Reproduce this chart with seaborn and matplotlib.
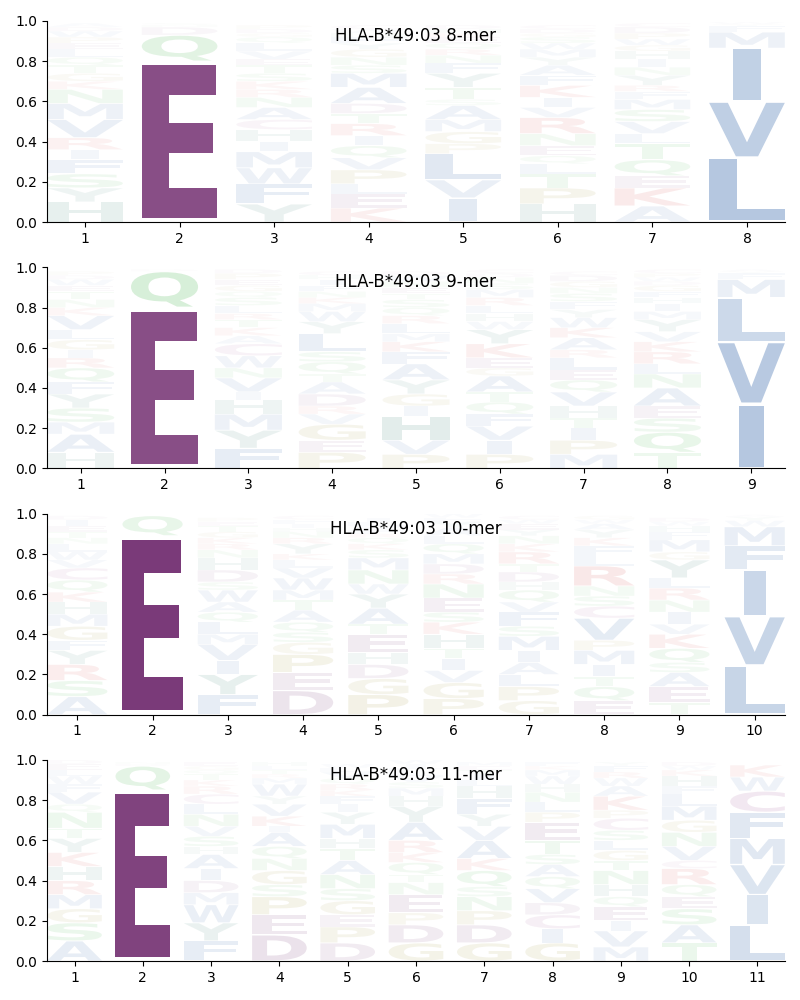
import numpy as np
import matplotlib
matplotlib.use('Agg')
import matplotlib.pyplot as plt
import seaborn as sns
from matplotlib.textpath import TextPath
from matplotlib.patches import PathPatch
from matplotlib.font_manager import FontProperties
from matplotlib.transforms import Affine2D

allele = 'HLA-B*49:03'

# letters per position, stacked bottom -> top, with their probabilities
mer8_letters = [
    'HYSFIRVMNKGTQLEPWDA',
    'EQDNS',
    'YFWMIHCANRKSTEVLQGDP',
    'KELPVQIRTDAMSNGYFHWC',
    'IVLPGMASTYFNRQEKHD',
    'HPTLQENRVIKFAYMWSGDC',
    'AKEQTLVSMFRYNIHGWPDC',
    'LVIMFYW',
]
mer8_heights = [
    [.10, .07, .07, .07, .05, .06, .09, .08, .07, .04, .04, .04, .04, .04, .03, .03, .03, .02, .02],
    [.80, .13, .04, .01, .01],
    [.09, .10, .08, .08, .05, .06, .05, .06, .05, .04, .04, .04, .04, .03, .04, .04, .03, .02, .02, .02],
    [.07, .07, .05, .07, .06, .06, .05, .06, .05, .05, .08, .07, .04, .04, .04, .03, .03, .02, .02, .02],
    [.12, .09, .13, .05, .06, .06, .07, .03, .06, .07, .05, .04, .03, .03, .03, .02, .02, .02],
    [.09, .08, .07, .05, .04, .05, .06, .08, .05, .05, .06, .05, .05, .04, .04, .03, .03, .02, .02, .02],
    [.08, .09, .06, .08, .08, .05, .06, .06, .05, .04, .03, .05, .04, .04, .04, .03, .03, .03, .03, .02],
    [.32, .28, .265, .08, .03, .01, .01],
]

mer9_letters = [
    'HAMSYFQRIGLVKNTEWDP',
    'EQD',
    'FYMHIVNWCAKTRLSQGEPD',
    'PEGVRDATQSLYWMKNFIHC',
    'PVHIGYAFKMLRQSTENWD',
    'PIVFQTAGEKYWHLRMSNDC',
    'MPITHVQELRAKWYFSNGDC',
    'TQSEANLRKVYMIHFGDWPC',
    'IVLMFYA',
]
mer9_heights = [
    [.08, .09, .06, .07, .07, .06, .07, .05, .04, .05, .05, .07, .04, .04, .04, .03, .03, .02, .02],
    [.80, .18, .01],
    [.10, .09, .08, .07, .04, .07, .05, .06, .06, .04, .04, .04, .03, .04, .04, .03, .03, .03, .03, .02],
    [.08, .06, .08, .05, .04, .06, .06, .04, .06, .05, .09, .06, .05, .04, .03, .03, .03, .03, .02, .02],
    [.07, .07, .12, .05, .06, .07, .08, .06, .05, .04, .05, .04, .04, .04, .03, .03, .03, .03, .02],
    [.07, .07, .07, .06, .06, .05, .08, .04, .05, .07, .07, .04, .04, .04, .04, .04, .03, .03, .02, .02],
    [.07, .07, .06, .05, .06, .07, .06, .05, .06, .04, .06, .05, .05, .04, .04, .04, .03, .03, .03, .02],
    [.08, .10, .07, .06, .09, .07, .05, .06, .05, .05, .06, .04, .04, .03, .03, .03, .02, .02, .02, .02],
    [.32, .31, .22, .09, .03, .01, .01],
]

mer10_letters = [
    'ASRYFGMHKQCVWLNTEID',
    'EQ',
    'FYIVMLQAWSDHNRKGTEP',
    'DEPGSQATMWVLKYRNHIFC',
    'PGDHETAYWNMSKQRFVLI',
    'PGVITHKSENRDMQLAYFW',
    'GPLAIMSFVQHDTRKNYEWC',
    'EQTIMPVCSNRLFKYAWG',
    'TEASQKVINRLYGMFHWD',
    'LVIFMWYA',
]
mer10_heights = [
    [.09, .08, .08, .07, .05, .07, .06, .06, .05, .06, .06, .04, .04, .04, .03, .03, .03, .03, .02],
    [.89, .10],
    [.10, .10, .07, .08, .05, .06, .05, .05, .06, .04, .06, .06, .04, .03, .03, .03, .03, .02, .02],
    [.12, .09, .09, .06, .05, .05, .06, .05, .05, .06, .05, .04, .03, .05, .03, .03, .02, .02, .02, .02],
    [.10, .08, .07, .06, .09, .05, .08, .07, .05, .07, .06, .04, .03, .03, .02, .02, .02, .02, .02],
    [.08, .08, .06, .06, .05, .07, .06, .05, .07, .07, .05, .05, .05, .05, .04, .04, .03, .02, .02],
    [.07, .07, .06, .06, .06, .07, .05, .07, .05, .06, .04, .05, .04, .06, .04, .04, .03, .03, .02, .02],
    [.07, .07, .05, .06, .07, .05, .11, .06, .05, .05, .10, .05, .05, .04, .04, .03, .02, .02],
    [.06, .08, .07, .05, .07, .07, .05, .06, .06, .06, .05, .09, .04, .06, .04, .03, .02, .02],
    [.245, .245, .23, .12, .095, .03, .02, .01],
]

mer11_letters = [
    'ASGMRHKYTNQVFWLED',
    'EQDN',
    'FYWMDIAHSVNLCRKTQGE',
    'DEPSGNQAIKVYWMRTLH',
    'DPEGSNATHMYIFKRQVLW',
    'GDPENTQKRAYHMSVLFIW',
    'GDPNSQKAVYFHLITEM',
    'GICDVQASTEPLNHWMKF',
    'MVIEQHNTGLSCPKAWRFY',
    'TASEQRCVNGMLFHKWD',
    'LIVMFCWK',
]
mer11_heights = [
    [.10, .09, .07, .07, .07, .07, .07, .07, .05, .08, .04, .06, .04, .04, .03, .03, .02],
    [.85, .12, .01, .01],
    [.10, .09, .09, .06, .06, .06, .07, .04, .05, .05, .06, .05, .05, .04, .03, .03, .02, .02, .02],
    [.13, .10, .09, .06, .07, .06, .06, .07, .03, .05, .06, .04, .06, .03, .02, .02, .02, .02],
    [.09, .08, .06, .07, .06, .07, .07, .06, .05, .07, .06, .04, .04, .03, .03, .03, .03, .02, .02],
    [.09, .09, .06, .09, .06, .04, .06, .05, .06, .09, .08, .05, .04, .03, .03, .02, .02, .02, .02],
    [.09, .09, .07, .07, .05, .08, .06, .09, .07, .06, .08, .06, .03, .03, .02, .02, .02],
    [.09, .07, .07, .06, .07, .06, .06, .05, .07, .09, .05, .05, .05, .04, .04, .03, .02, .02],
    [.07, .08, .05, .07, .05, .06, .07, .05, .05, .05, .05, .06, .04, .07, .05, .04, .03, .03, .02],
    [.09, .09, .08, .06, .06, .08, .04, .07, .07, .06, .07, .06, .04, .05, .03, .02, .02],
    [.18, .15, .15, .13, .13, .105, .07, .06],
]

# residue colours (opacity = probability)
aa_colors = {}
for aa in 'AVLIMFW':
    aa_colors[aa] = '#1a53a0'
for aa in 'DE':
    aa_colors[aa] = '#6a2268'
for aa in 'NQST':
    aa_colors[aa] = '#26a82e'
for aa in 'KR':
    aa_colors[aa] = '#cc1f1f'
for aa in 'GP':
    aa_colors[aa] = '#8a7f0a'
for aa in 'HY':
    aa_colors[aa] = '#1c6e62'
aa_colors['C'] = '#8c2a7c'

FONT = FontProperties(family='DejaVu Sans', weight='bold')
WIDTH = 0.8
VPAD = 0.05


def draw_letter(ax, c, x, floor, h, color):
    path = TextPath((0, 0), c, size=1, prop=FONT)
    ext = path.get_extents()
    w = WIDTH * 0.37 if c == 'I' else WIDTH
    t = (Affine2D()
         .translate(-ext.x0, -ext.y0)
         .scale(w / ext.width, h * (1 - VPAD) / ext.height)
         .translate(x - w / 2, floor + h * VPAD / 2))
    patch = PathPatch(t.transform_path(path), facecolor=color, edgecolor='none',
                      alpha=min(1.0, h))
    ax.add_patch(patch)


def draw_logo(ax, letters, heights, title):
    n = len(letters)
    for i, (col, hs) in enumerate(zip(letters, heights)):
        floor = 0.0
        for c, h in zip(col, hs):
            draw_letter(ax, c, i + 1, floor, h, aa_colors[c])
            floor += h
    ax.set_xlim(0.6, n + 0.4)
    ax.set_ylim(0, 1)
    ax.set_xticks(np.arange(1, n + 1))
    ax.set_yticks(np.arange(0, 1.01, 0.2))
    ax.text(0.5, 0.925, title, transform=ax.transAxes, ha='center', va='center', fontsize=12)
    sns.despine(ax=ax)


plt.rcParams['font.family'] = ['DejaVu Sans']

fig, axes = plt.subplots(4, 1, figsize=(8, 10), dpi=100)
fig.subplots_adjust(left=0.059, right=0.981, top=0.979, bottom=0.039, hspace=0.225)

panels = [
    (mer8_letters, mer8_heights, '8-mer'),
    (mer9_letters, mer9_heights, '9-mer'),
    (mer10_letters, mer10_heights, '10-mer'),
    (mer11_letters, mer11_heights, '11-mer'),
]
for ax, (letters, heights, name) in zip(axes, panels):
    draw_logo(ax, letters, heights, f'{allele} {name}')

plt.savefig('out.png', dpi=100)
